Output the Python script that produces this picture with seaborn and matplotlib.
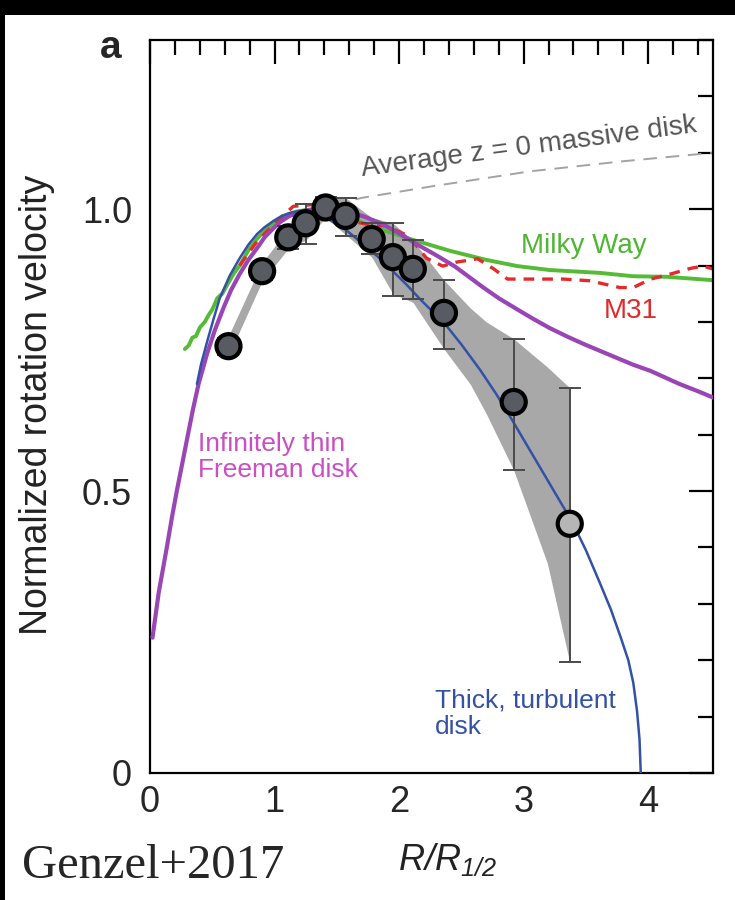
import matplotlib
matplotlib.use("Agg")
import matplotlib.pyplot as plt
import pandas as pd
import seaborn as sns
from matplotlib.patches import Rectangle
from matplotlib.ticker import MultipleLocator

# --- data (R/R_1/2, normalized velocity) ---
r_pts = [0.63, 0.90, 1.11, 1.25, 1.41, 1.57, 1.78, 1.95, 2.11, 2.36, 2.92, 3.37]
v_pts = [0.757, 0.89, 0.95, 0.975, 1.003, 0.988, 0.947, 0.915, 0.894, 0.816, 0.658, 0.442]
v_lo = [0.742, 0.875, 0.93, 0.938, 0.985, 0.952, 0.92, 0.846, 0.84, 0.752, 0.538, 0.196]
v_hi = [0.772, 0.905, 0.97, 1.01, 1.021, 1.02, 0.975, 0.975, 0.945, 0.874, 0.77, 0.683]
pt_kind = ['dark'] * 11 + ['light']

band_r = [0.63, 0.90, 1.11, 1.25, 1.41, 1.57, 1.78, 1.95, 2.11, 2.36, 2.57, 2.70, 2.92, 3.19, 3.37]
band_lo = [0.74, 0.872, 0.93, 0.945, 0.985, 0.955, 0.915, 0.85, 0.835, 0.752, 0.69, 0.637, 0.537, 0.372, 0.196]
band_hi = [0.775, 0.905, 0.965, 0.995, 1.02, 1.02, 0.985, 0.975, 0.945, 0.874, 0.825, 0.80, 0.77, 0.72, 0.683]

avg_r = [1.3, 1.7, 2.25, 3.05, 3.8, 4.52]
avg_v = [1.0, 1.02, 1.04, 1.067, 1.085, 1.10]

mw_r = [0.28, 0.31, 0.34, 0.37, 0.40, 0.44, 0.47, 0.50, 0.54, 0.58, 0.62, 0.67, 0.72, 0.80, 0.87,
        0.94, 1.07, 1.18, 1.30, 1.45, 1.60, 1.80, 2.06, 2.41, 2.70, 2.95, 3.21, 3.61, 3.88, 4.15, 4.52]
mw_v = [0.752, 0.758, 0.772, 0.775, 0.79, 0.80, 0.812, 0.822, 0.842, 0.85, 0.866, 0.885, 0.90, 0.931, 0.95,
        0.966, 0.988, 0.996, 1.0, 0.998, 0.985, 0.968, 0.949, 0.926, 0.91, 0.899, 0.892, 0.887, 0.881, 0.88, 0.874]

m31_r = [0.72, 0.85, 1.0, 1.15, 1.3, 1.45, 1.63, 1.78, 1.9, 2.05, 2.14, 2.22, 2.35, 2.46, 2.63, 2.76, 2.87,
         3.11, 3.32, 3.53, 3.77, 3.88, 4.02, 4.18, 4.34, 4.44, 4.52]
m31_v = [0.90, 0.94, 0.975, 1.005, 1.008, 1.0, 0.978, 0.972, 0.97, 0.955, 0.935, 0.913, 0.899, 0.906, 0.912, 0.894, 0.876,
         0.876, 0.876, 0.873, 0.861, 0.861, 0.876, 0.885, 0.895, 0.899, 0.894]

thin_r = [0.02, 0.07, 0.135, 0.175, 0.215, 0.26, 0.30, 0.345, 0.39, 0.46, 0.52, 0.59, 0.65, 0.72, 0.79,
          0.86, 0.92, 0.99, 1.05, 1.12, 1.25, 1.40, 1.50, 1.60, 1.73, 1.87, 2.0, 2.14, 2.30, 2.45, 2.56,
          2.67, 2.80, 2.95, 3.08, 3.21, 3.35, 3.48, 3.62, 3.75, 3.88, 4.02, 4.15, 4.25, 4.40, 4.52]
thin_v = [0.24, 0.32, 0.40, 0.452, 0.50, 0.55, 0.595, 0.645, 0.69, 0.745, 0.785, 0.825, 0.856, 0.885, 0.91,
          0.931, 0.95, 0.966, 0.978, 0.988, 0.998, 1.0, 0.999, 0.995, 0.986, 0.973, 0.957, 0.938, 0.918, 0.898, 0.88,
          0.862, 0.842, 0.822, 0.805, 0.789, 0.774, 0.761, 0.748, 0.736, 0.724, 0.713, 0.70, 0.69, 0.677, 0.666]

thick_r = [0.377, 0.41, 0.46, 0.51, 0.56, 0.64, 0.72, 0.79, 0.86, 0.92, 0.99, 1.05, 1.12, 1.2, 1.3,
           1.45, 1.58, 1.70, 1.78, 1.87, 1.95, 2.06, 2.17, 2.27, 2.37, 2.50, 2.65, 2.78, 2.91, 3.03,
           3.15, 3.27, 3.39, 3.50, 3.61, 3.70, 3.78, 3.84, 3.88, 3.91, 3.93, 3.94]
thick_v = [0.69, 0.725, 0.766, 0.805, 0.842, 0.882, 0.913, 0.937, 0.956, 0.968, 0.979, 0.987, 0.993, 0.997, 0.995,
           0.98, 0.962, 0.94, 0.925, 0.908, 0.89, 0.866, 0.84, 0.818, 0.796, 0.76, 0.715, 0.672, 0.625, 0.58,
           0.535, 0.49, 0.445, 0.395, 0.338, 0.29, 0.24, 0.2, 0.16, 0.11, 0.06, 0.0]

sns.set_theme(style="white")
plt.rcParams['font.family'] = ['Liberation Sans', 'DejaVu Sans']
plt.rcParams['mathtext.fontset'] = 'custom'
plt.rcParams['mathtext.it'] = 'Liberation Sans:italic'
plt.rcParams['mathtext.rm'] = 'Liberation Sans:italic'

fig = plt.figure(figsize=(7.35, 9), dpi=100)
fig.patch.set_facecolor('white')
ax = fig.add_axes([150/735, 127/900, 563/735, 733/900])

# shaded band
ax.fill_between(band_r, band_lo, band_hi, color='#a8a8a8', lw=0, zorder=1)

# model / comparison curves
sns.lineplot(x=avg_r, y=avg_v, sort=False, estimator=None, color='#a3a3a3', lw=1.4, ax=ax, zorder=2)
ax.lines[-1].set_dashes([7, 4.5])
sns.lineplot(x=mw_r, y=mw_v, sort=False, estimator=None, color='#55bb36', lw=2.8, ax=ax, zorder=2)
sns.lineplot(x=m31_r, y=m31_v, sort=False, estimator=None, color='#e42a2a', lw=2.4, ax=ax, zorder=2)
ax.lines[-1].set_dashes([3.2, 2.4])
sns.lineplot(x=thin_r, y=thin_v, sort=False, estimator=None, color='#9a45b5', lw=3.0, ax=ax, zorder=3)
sns.lineplot(x=thick_r, y=thick_v, sort=False, estimator=None, color='#3352a6', lw=1.8, ax=ax, zorder=3)

# data points with error bars
yerr = [[v - lo for v, lo in zip(v_pts, v_lo)], [hi - v for v, hi in zip(v_pts, v_hi)]]
ax.errorbar(r_pts, v_pts, yerr=yerr, fmt='none', ecolor='#4a4a4a', elinewidth=1.4,
            capsize=8, capthick=1.4, zorder=4)
pts = pd.DataFrame({'r': r_pts, 'v': v_pts, 'kind': pt_kind})
sns.scatterplot(data=pts, x='r', y='v', hue='kind', palette={'dark': '#585c62', 'light': '#b6b6b6'},
                s=300, edgecolor='black', linewidth=3, legend=False, ax=ax, zorder=5)

# labels on the curves
ax.text(3.04, 1.111, 'Average z = 0 massive disk', color='#555555', fontsize=20,
        rotation=7.5, rotation_mode='anchor', ha='center', va='center')
ax.text(2.98, 0.934, 'Milky Way', color='#4fb532', fontsize=20, va='center')
ax.text(3.64, 0.82, 'M31', color='#e02a2a', fontsize=20, va='center')
ax.text(0.385, 0.56, 'Infinitely thin\nFreeman disk', color='#c94fc2', fontsize=19,
        va='center', linespacing=1.1)
ax.text(2.29, 0.105, 'Thick, turbulent\ndisk', color='#3352a6', fontsize=19,
        va='center', linespacing=1.1)

# axes styling
ax.set_xlim(0, 4.52)
ax.set_ylim(0, 1.3)
ax.set_xticks([0, 1, 2, 3, 4])
ax.set_xticklabels(['0', '1', '2', '3', '4'])
ax.set_yticks([0, 0.5, 1.0])
ax.set_yticklabels(['0', '0.5', '1.0'])
ax.xaxis.set_minor_locator(MultipleLocator(0.2))
ax.yaxis.set_minor_locator(MultipleLocator(0.1))
ax.tick_params(which='both', direction='in', top=True, right=True, color='black', width=1.6)
ax.tick_params(which='major', length=17, labelsize=26)
ax.tick_params(which='minor', length=10.5)
ax.tick_params(axis='y', which='major', pad=13)
ax.tick_params(axis='x', which='major', pad=9)
for sp in ax.spines.values():
    sp.set_color('black')
    sp.set_linewidth(1.6)
ax.set_xlabel('')
ax.set_ylabel('')

fig.text(37/735, 1 - 405/900, 'Normalized rotation velocity', rotation=90, fontsize=27,
         ha='center', va='center', color='#222222')
fig.text(447/735, 1 - 860/900, r'$R/R_{1/2}$', fontsize=26, ha='center', va='center', color='#222222')
fig.text(100/735, 1 - 58/900, 'a', fontsize=28, fontweight='bold', ha='left', va='baseline')
fig.text(22/735, 1 - 878/900, 'Genzel+2017', fontsize=35, family=['Liberation Serif', 'DejaVu Serif'],
         ha='left', va='baseline')

# black frame strips from the screenshot
fig.add_artist(Rectangle((0, 1 - 15/900), 1, 15/900, transform=fig.transFigure, color='black', lw=0))
fig.add_artist(Rectangle((0, 0), 5/735, 1, transform=fig.transFigure, color='black', lw=0))

fig.savefig('out.png', dpi=100)
